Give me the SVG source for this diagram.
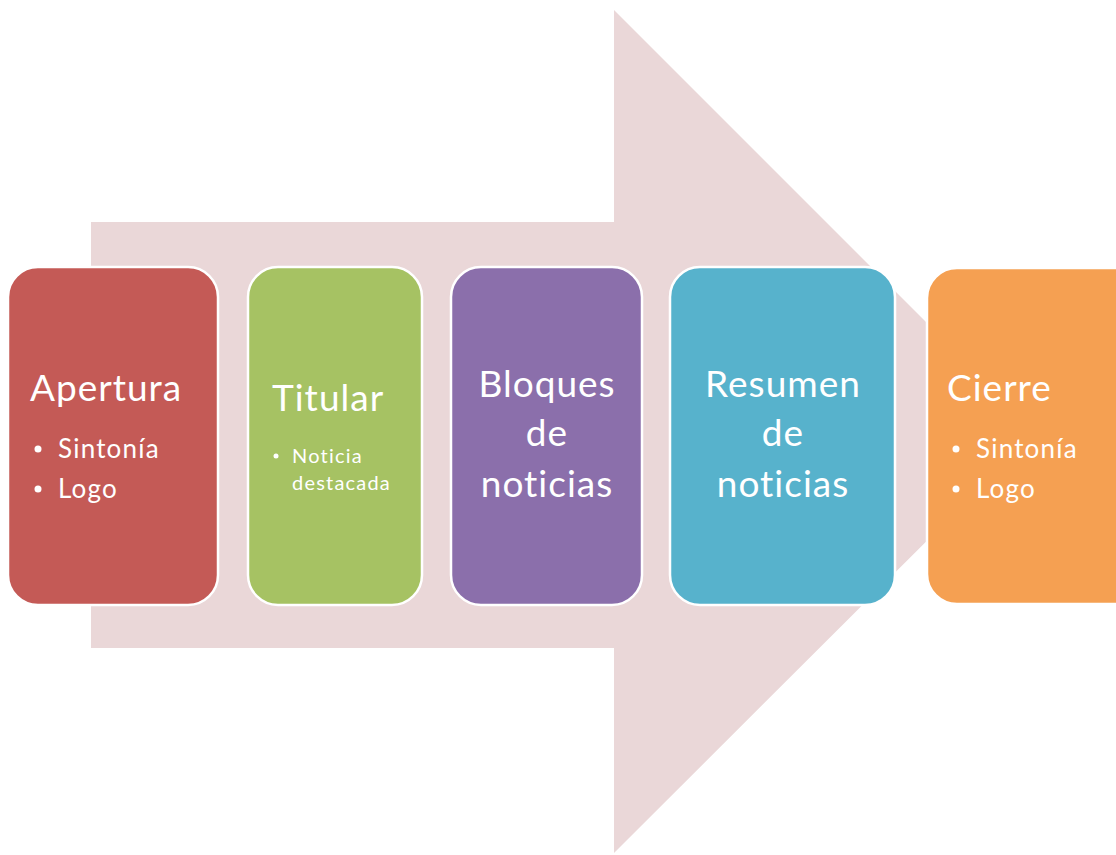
<svg xmlns="http://www.w3.org/2000/svg" width="1116" height="855" viewBox="0 0 1116 855">
<style>
.box{stroke:#ffffff;stroke-width:2.5}
.t{font-family:Lato,"Open Sans","Liberation Sans",sans-serif;fill:#ffffff}
.h{font-size:37px;letter-spacing:1px}
.b{font-size:26px;letter-spacing:1.2px}
.s{font-size:20px;letter-spacing:1.2px}
.c{text-anchor:middle}
</style>
<rect width="1116" height="855" fill="#ffffff"/>
<g id="connectors">
<polygon points="91,222 614,222 614,10 1036,432 614,853 614,648 91,648" fill="#ead7d8"/>
</g>
<g id="apertura">
<rect class="box" x="8" y="267" width="210" height="338" rx="30" fill="#c45a56"/>
<text class="t h" x="30" y="401">Apertura</text>
<circle cx="38" cy="449" r="3.5" fill="#ffffff"/>
<text class="t b" x="58" y="458">Sintonía</text>
<circle cx="38" cy="489" r="3.5" fill="#ffffff"/>
<text class="t b" x="58" y="498">Logo</text>
</g>
<g id="titular">
<rect class="box" x="248" y="267" width="174" height="338" rx="30" fill="#a6c263"/>
<text class="t h" x="272" y="411">Titular</text>
<circle cx="276" cy="456" r="2.5" fill="#ffffff"/>
<text class="t s" x="292" y="463">Noticia</text>
<text class="t s" x="292" y="490">destacada</text>
</g>
<g id="bloques">
<rect class="box" x="451" y="267" width="191" height="338" rx="30" fill="#8b6fab"/>
<text class="t h c" x="547" y="397">Bloques</text>
<text class="t h c" x="547" y="446">de</text>
<text class="t h c" x="547" y="497">noticias</text>
</g>
<g id="resumen">
<rect class="box" x="670" y="267" width="225" height="338" rx="30" fill="#57b2cc"/>
<text class="t h c" x="783" y="397">Resumen</text>
<text class="t h c" x="783" y="446">de</text>
<text class="t h c" x="783" y="497">noticias</text>
</g>
<g id="cierre">
<rect class="box" x="927" y="268" width="220" height="336" rx="30" fill="#f5a052"/>
<text class="t h" x="947" y="401">Cierre</text>
<circle cx="956" cy="449" r="3.5" fill="#ffffff"/>
<text class="t b" x="976" y="458">Sintonía</text>
<circle cx="956" cy="489" r="3.5" fill="#ffffff"/>
<text class="t b" x="976" y="498">Logo</text>
</g>
</svg>
